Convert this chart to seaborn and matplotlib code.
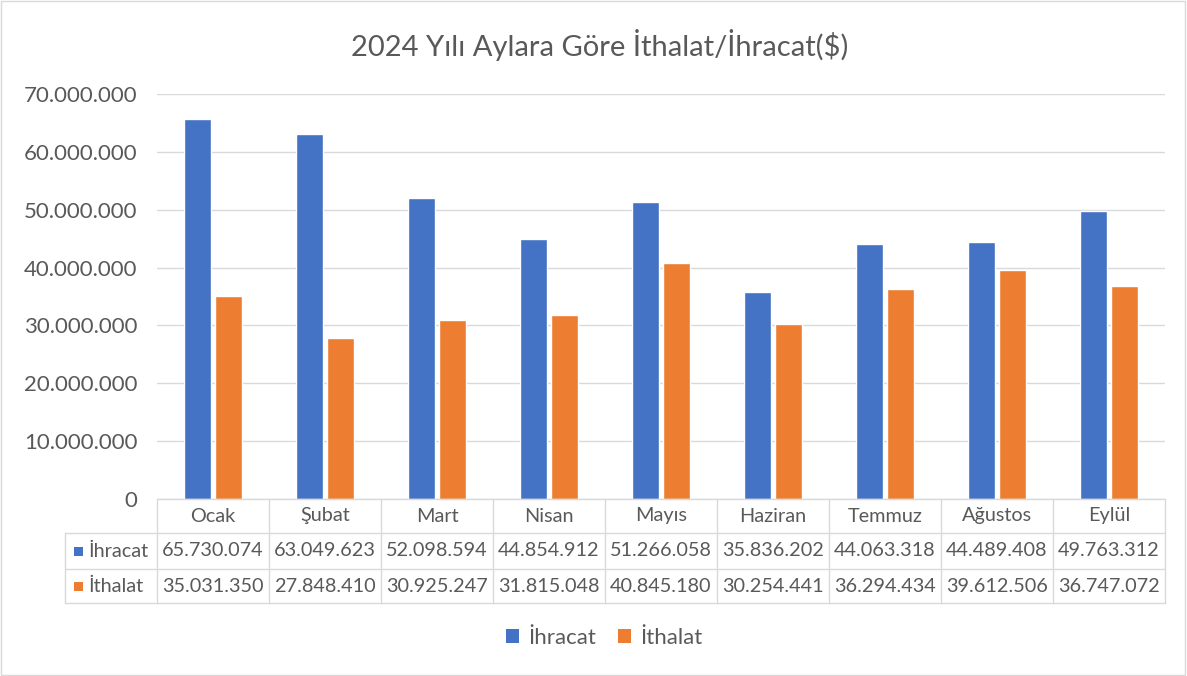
import matplotlib
matplotlib.use("Agg")
import matplotlib.pyplot as plt
from matplotlib.patches import Rectangle
from matplotlib.lines import Line2D
import seaborn as sns
import pandas as pd

months = ["Ocak", "Şubat", "Mart", "Nisan", "Mayıs", "Haziran", "Temmuz", "Ağustos", "Eylül"]
ihracat = [65730074, 63049623, 52098594, 44854912, 51266058, 35836202, 44063318, 44489408, 49763312]
ithalat = [35031350, 27848410, 30925247, 31815048, 40845180, 30254441, 36294434, 39612506, 36747072]
series_names = ["İhracat", "İthalat"]
y_ticks = [0, 10000000, 20000000, 30000000, 40000000, 50000000, 60000000, 70000000]
title = "2024 Yılı Aylara Göre İthalat/İhracat($)"

colors = ["#4472C4", "#ED7D31"]
txt = "#595959"
grid_c = "#D9D9D9"

sns.set_theme(style="white")
plt.rcParams["font.family"] = ["Lato", "DejaVu Sans"]

df = pd.DataFrame({
    "Ay": months * 2,
    "Seri": [series_names[0]] * len(months) + [series_names[1]] * len(months),
    "Değer": ihracat + ithalat,
})

def fmt(v):
    return f"{int(v):,}".replace(",", ".")

fig = plt.figure(figsize=(11.87, 6.76), dpi=100)
ax = fig.add_axes([157 / 1187, 1 - 499 / 676, 1008 / 1187, 405 / 676])

sns.barplot(data=df, x="Ay", y="Değer", hue="Seri", order=months, hue_order=series_names,
            palette=colors, width=0.54, gap=0.1, ax=ax, legend=False, saturation=1)

ax.set_ylim(0, 70000000)
ax.set_xlim(-0.5, len(months) - 0.5)
ax.set_yticks(y_ticks)
ax.set_yticklabels([fmt(v) for v in y_ticks], color=txt, fontsize=16)
ax.tick_params(axis="y", length=0, pad=14)
ax.set_xticks([])
ax.set_xlabel("")
ax.set_ylabel("")
for s in ax.spines.values():
    s.set_visible(False)
ax.yaxis.grid(True, color=grid_c, linewidth=1)
ax.set_axisbelow(True)

# Data table below the axes
n = len(months)
lab_left = -92 / 1008
rows_y = [0, -34 / 405, -70 / 405, -104 / 405]
kw = dict(transform=ax.transAxes, clip_on=False, color=grid_c, linewidth=1)
ax.add_line(Line2D([0, 1], [0, 0], **kw))
for yv in rows_y[1:]:
    ax.add_line(Line2D([lab_left, 1], [yv, yv], **kw))
ax.add_line(Line2D([lab_left, lab_left], [rows_y[1], rows_y[3]], **kw))
for i in range(n + 1):
    ax.add_line(Line2D([i / n, i / n], [0, rows_y[3]], **kw))

tfs = 14.3
for i, m in enumerate(months):
    xc = (i + 0.5) / n
    ax.text(xc, (rows_y[0] + rows_y[1]) / 2, m, transform=ax.transAxes, ha="center", va="center",
            color=txt, fontsize=tfs)
    ax.text(xc, (rows_y[1] + rows_y[2]) / 2, fmt(ihracat[i]), transform=ax.transAxes, ha="center",
            va="center", color=txt, fontsize=tfs)
    ax.text(xc, (rows_y[2] + rows_y[3]) / 2, fmt(ithalat[i]), transform=ax.transAxes, ha="center",
            va="center", color=txt, fontsize=tfs)

for k, name in enumerate(series_names):
    yc = (rows_y[k + 1] + rows_y[k + 2]) / 2
    sq_w = 9 / 1008
    sq_h = 9 / 405
    ax.add_patch(Rectangle((lab_left + 9 / 1008, yc - sq_h / 2), sq_w, sq_h, transform=ax.transAxes,
                           clip_on=False, facecolor=colors[k], edgecolor="none"))
    ax.text(lab_left + 23 / 1008, yc, name, transform=ax.transAxes, ha="left", va="center",
            color=txt, fontsize=tfs)

# Title
fig.text(0.505, 1 - 45 / 676, title, ha="center", va="center", color=txt, fontsize=21)

# Legend
handles = [Rectangle((0, 0), 1, 1, facecolor=c, edgecolor="none") for c in colors]
fig.legend(handles, series_names, loc="center", bbox_to_anchor=(0.509, 1 - 638 / 676), ncol=2,
           frameon=False, fontsize=16, labelcolor=txt, handlelength=0.6, handleheight=0.6,
           handletextpad=0.4, columnspacing=1.0)

# Chart border
fig.add_artist(Rectangle((0.001, 0.001), 0.997, 0.997, transform=fig.transFigure, fill=False,
                         edgecolor=grid_c, linewidth=1))

fig.savefig("out.png", dpi=100, facecolor="white")
